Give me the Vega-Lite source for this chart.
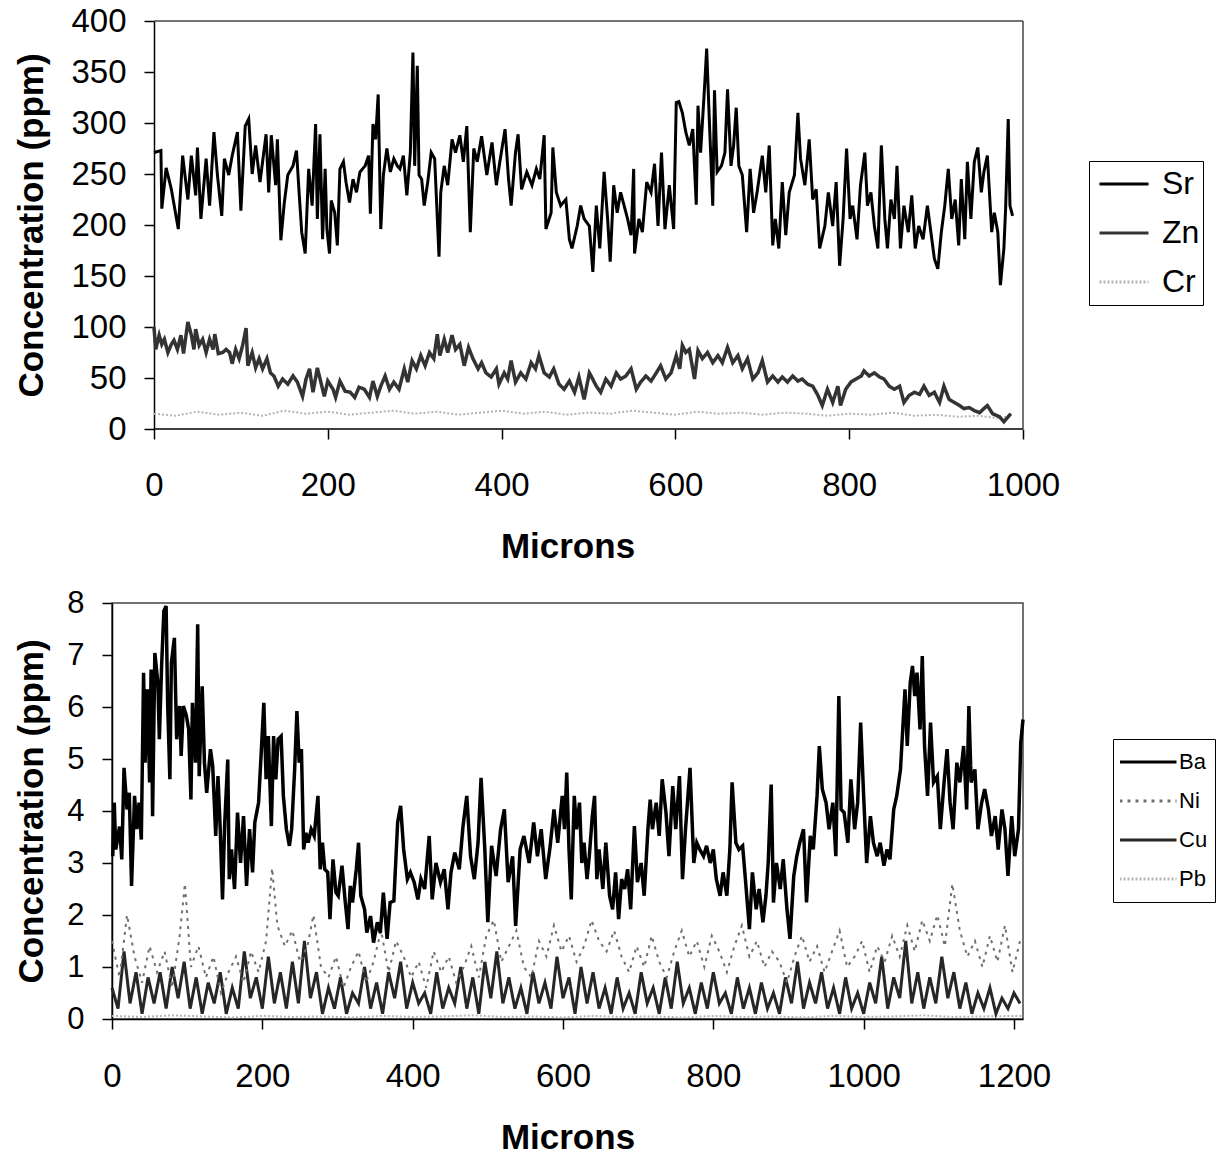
{
"$schema": "https://vega.github.io/schema/vega-lite/v6.json",
"padding": {"left": 13, "top": 5, "right": 5, "bottom": 5},
"background": "white",
"spacing": 22,
"resolve": {"scale": {"color": "independent", "strokeDash": "independent"}, "legend": {"color": "independent", "strokeDash": "independent"}},
"config": {
 "font": "Liberation Sans",
 "axis": {"grid": false, "labelFont": "Liberation Sans", "titleFont": "Liberation Sans", "labelColor": "black", "titleColor": "black", "domainColor": "black", "tickColor": "black", "domainWidth": 1.5, "tickWidth": 1.5, "tickSize": 10, "titleFontWeight": "bold", "titleFontSize": 35, "labelFontSize": 33, "labelOverlap": false, "labelFlush": false, "format": "d"},
 "view": {"stroke": "#444", "strokeWidth": 1.5},
 "legend": {"labelFont": "Liberation Sans", "labelColor": "black", "strokeColor": "black", "symbolType": "stroke"}
},
"vconcat": [
{
 "width": 911, "height": 408,
 "view": {"stroke": null},
 "layer": [
  {"data": {"values": [
{"m":0,"v":15},{"m":25,"v":13},{"m":50,"v":17},{"m":75,"v":14},{"m":100,"v":16},{"m":125,"v":13},{"m":150,"v":18},{"m":175,"v":15},{"m":200,"v":17},{"m":225,"v":14},{"m":250,"v":16},{"m":275,"v":18},{"m":300,"v":15},{"m":325,"v":17},{"m":350,"v":14},{"m":375,"v":16},{"m":400,"v":18},{"m":425,"v":15},{"m":450,"v":17},{"m":475,"v":14},{"m":500,"v":16},{"m":525,"v":15},{"m":550,"v":18},{"m":575,"v":16},{"m":600,"v":14},{"m":625,"v":17},{"m":650,"v":15},{"m":675,"v":16},{"m":700,"v":14},{"m":725,"v":16},{"m":750,"v":15},{"m":775,"v":13},{"m":800,"v":15},{"m":825,"v":14},{"m":850,"v":16},{"m":875,"v":13},{"m":900,"v":14},{"m":925,"v":12},{"m":950,"v":13},{"m":975,"v":10},{"m":985,"v":14}
  ]},
   "mark": {"type": "line", "strokeWidth": 2},
   "encoding": {
    "x": {"field": "m", "type": "quantitative", "scale": {"domain": [-48.3, 1000], "nice": false, "zero": false}, "axis": {"values": [0,200,400,600,800,1000], "title": "Microns", "domain": false, "labelPadding": 30, "titleY": 100, "format": "d"}},
    "y": {"field": "v", "type": "quantitative", "scale": {"domain": [0, 400], "nice": false}, "axis": {"values": [0,50,100,150,200,250,300,350,400], "title": "Concentration (ppm)", "offset": -42, "labelPadding": 18, "titleX": -105, "format": "d"}},
    "color": {"datum": "Cr", "type": "nominal", "scale": {"domain": ["Sr","Zn","Cr"], "range": ["black","#333333","#b4b4b4"]}, "legend": {"title": null, "orient": "none", "legendX": 977, "legendY": 140, "padding": 3, "clipHeight": 40, "rowPadding": 9, "symbolSize": 2401, "symbolStrokeWidth": 3, "symbolOffset": 6, "labelOffset": 12, "labelFontSize": 32, "strokeColor": "black"}},
    "strokeDash": {"datum": "Cr", "type": "nominal", "scale": {"domain": ["Sr","Zn","Cr"], "range": [[1,0],[1,0],[2,2]]}, "legend": {"title": null, "orient": "none", "legendX": 977, "legendY": 140, "padding": 3, "clipHeight": 40, "rowPadding": 9, "symbolSize": 2401, "symbolStrokeWidth": 3, "symbolOffset": 6, "labelOffset": 12, "labelFontSize": 32, "strokeColor": "black"}}
   }},
  {"data": {"values": [{"k": 1}]}, "mark": {"type": "rule", "color": "#444", "strokeWidth": 1.5}, "encoding": {"x": {"datum": 0}, "x2": {"datum": 1000}, "y": {"datum": 400}}},
  {"data": {"values": [{"k": 1}]}, "mark": {"type": "rule", "color": "#444", "strokeWidth": 1.5}, "encoding": {"x": {"datum": 1000}, "y": {"datum": 0}, "y2": {"datum": 400}}},
  {"data": {"values": [{"k": 1}]}, "mark": {"type": "rule", "color": "black", "strokeWidth": 1.5}, "encoding": {"x": {"datum": 0}, "x2": {"datum": 1000}, "y": {"datum": 0}}},
  {"data": {"values": [
{"m":0,"v":100},{"m":2,"v":78},{"m":6,"v":92},{"m":9,"v":83},{"m":12,"v":88},{"m":16,"v":75},{"m":20,"v":83},{"m":23,"v":87},{"m":27,"v":78},{"m":31,"v":92},{"m":34,"v":74},{"m":39,"v":105},{"m":43,"v":92},{"m":46,"v":78},{"m":48,"v":98},{"m":52,"v":82},{"m":56,"v":88},{"m":60,"v":75},{"m":64,"v":88},{"m":68,"v":78},{"m":70,"v":93},{"m":74,"v":74},{"m":79,"v":75},{"m":83,"v":78},{"m":87,"v":75},{"m":90,"v":64},{"m":94,"v":78},{"m":98,"v":69},{"m":102,"v":82},{"m":106,"v":99},{"m":108,"v":62},{"m":113,"v":75},{"m":117,"v":60},{"m":121,"v":69},{"m":125,"v":59},{"m":130,"v":69},{"m":134,"v":55},{"m":138,"v":52},{"m":143,"v":42},{"m":148,"v":49},{"m":154,"v":44},{"m":160,"v":52},{"m":165,"v":46},{"m":171,"v":32},{"m":175,"v":49},{"m":179,"v":59},{"m":183,"v":36},{"m":188,"v":60},{"m":192,"v":46},{"m":196,"v":32},{"m":200,"v":47},{"m":206,"v":39},{"m":209,"v":31},{"m":214,"v":47},{"m":220,"v":37},{"m":226,"v":36},{"m":231,"v":31},{"m":236,"v":41},{"m":242,"v":39},{"m":248,"v":31},{"m":252,"v":47},{"m":257,"v":32},{"m":261,"v":42},{"m":266,"v":52},{"m":271,"v":39},{"m":276,"v":46},{"m":282,"v":39},{"m":288,"v":59},{"m":292,"v":46},{"m":297,"v":67},{"m":302,"v":59},{"m":307,"v":72},{"m":312,"v":62},{"m":317,"v":75},{"m":322,"v":69},{"m":326,"v":93},{"m":329,"v":72},{"m":334,"v":88},{"m":338,"v":75},{"m":343,"v":92},{"m":347,"v":78},{"m":352,"v":83},{"m":357,"v":62},{"m":362,"v":80},{"m":367,"v":69},{"m":373,"v":59},{"m":377,"v":65},{"m":382,"v":55},{"m":388,"v":51},{"m":394,"v":59},{"m":397,"v":44},{"m":403,"v":55},{"m":407,"v":49},{"m":411,"v":67},{"m":416,"v":46},{"m":422,"v":55},{"m":428,"v":49},{"m":434,"v":65},{"m":439,"v":59},{"m":443,"v":72},{"m":449,"v":55},{"m":455,"v":51},{"m":460,"v":59},{"m":466,"v":44},{"m":472,"v":39},{"m":478,"v":47},{"m":484,"v":36},{"m":489,"v":51},{"m":495,"v":29},{"m":501,"v":55},{"m":503,"v":52},{"m":509,"v":42},{"m":514,"v":36},{"m":520,"v":49},{"m":526,"v":42},{"m":532,"v":55},{"m":537,"v":49},{"m":543,"v":52},{"m":549,"v":59},{"m":555,"v":39},{"m":560,"v":46},{"m":566,"v":52},{"m":572,"v":47},{"m":578,"v":55},{"m":583,"v":62},{"m":589,"v":49},{"m":595,"v":55},{"m":601,"v":72},{"m":605,"v":59},{"m":608,"v":82},{"m":612,"v":75},{"m":616,"v":78},{"m":622,"v":49},{"m":626,"v":77},{"m":631,"v":69},{"m":637,"v":75},{"m":643,"v":65},{"m":649,"v":72},{"m":654,"v":65},{"m":660,"v":80},{"m":666,"v":65},{"m":672,"v":72},{"m":677,"v":59},{"m":683,"v":69},{"m":689,"v":49},{"m":695,"v":55},{"m":700,"v":67},{"m":706,"v":46},{"m":712,"v":52},{"m":718,"v":46},{"m":723,"v":51},{"m":729,"v":46},{"m":735,"v":52},{"m":741,"v":47},{"m":746,"v":49},{"m":752,"v":44},{"m":758,"v":42},{"m":764,"v":33},{"m":769,"v":23},{"m":775,"v":39},{"m":781,"v":26},{"m":787,"v":42},{"m":790,"v":23},{"m":796,"v":39},{"m":802,"v":46},{"m":808,"v":49},{"m":814,"v":52},{"m":817,"v":57},{"m":823,"v":52},{"m":829,"v":55},{"m":835,"v":51},{"m":840,"v":49},{"m":846,"v":42},{"m":852,"v":39},{"m":858,"v":42},{"m":863,"v":26},{"m":869,"v":33},{"m":875,"v":36},{"m":881,"v":34},{"m":886,"v":42},{"m":892,"v":33},{"m":898,"v":36},{"m":904,"v":26},{"m":909,"v":42},{"m":915,"v":29},{"m":921,"v":26},{"m":927,"v":23},{"m":932,"v":20},{"m":938,"v":21},{"m":944,"v":18},{"m":950,"v":16},{"m":955,"v":20},{"m":959,"v":23},{"m":965,"v":15},{"m":973,"v":12},{"m":978,"v":7},{"m":986,"v":15}
  ]},
   "mark": {"type": "line", "strokeWidth": 3.5},
   "encoding": {"x": {"field": "m", "type": "quantitative"}, "y": {"field": "v", "type": "quantitative"}, "color": {"datum": "Zn", "type": "nominal"}, "strokeDash": {"datum": "Zn", "type": "nominal"}}},
  {"data": {"values": [
{"m":0,"v":271},{"m":8,"v":273},{"m":9,"v":216},{"m":14,"v":256},{"m":20,"v":235},{"m":28,"v":196},{"m":33,"v":268},{"m":39,"v":225},{"m":43,"v":268},{"m":48,"v":229},{"m":50,"v":276},{"m":54,"v":206},{"m":60,"v":265},{"m":64,"v":219},{"m":69,"v":291},{"m":73,"v":249},{"m":78,"v":209},{"m":81,"v":265},{"m":86,"v":249},{"m":90,"v":268},{"m":96,"v":291},{"m":100,"v":214},{"m":105,"v":297},{"m":109,"v":304},{"m":113,"v":250},{"m":117,"v":278},{"m":122,"v":242},{"m":129,"v":289},{"m":132,"v":232},{"m":135,"v":288},{"m":140,"v":239},{"m":142,"v":284},{"m":146,"v":185},{"m":150,"v":222},{"m":154,"v":249},{"m":160,"v":258},{"m":164,"v":273},{"m":167,"v":232},{"m":170,"v":193},{"m":174,"v":172},{"m":178,"v":255},{"m":182,"v":219},{"m":186,"v":299},{"m":188,"v":206},{"m":191,"v":289},{"m":194,"v":186},{"m":197,"v":255},{"m":199,"v":196},{"m":202,"v":172},{"m":204,"v":224},{"m":208,"v":212},{"m":211,"v":180},{"m":214,"v":255},{"m":218,"v":262},{"m":221,"v":242},{"m":225,"v":222},{"m":229,"v":245},{"m":233,"v":232},{"m":237,"v":252},{"m":243,"v":258},{"m":247,"v":268},{"m":249,"v":211},{"m":252,"v":299},{"m":255,"v":284},{"m":258,"v":328},{"m":261,"v":196},{"m":264,"v":249},{"m":268,"v":275},{"m":272,"v":252},{"m":276,"v":265},{"m":280,"v":258},{"m":283,"v":255},{"m":287,"v":268},{"m":291,"v":229},{"m":295,"v":271},{"m":298,"v":369},{"m":300,"v":258},{"m":303,"v":356},{"m":305,"v":249},{"m":308,"v":245},{"m":311,"v":219},{"m":315,"v":242},{"m":319,"v":271},{"m":323,"v":265},{"m":328,"v":169},{"m":330,"v":232},{"m":334,"v":258},{"m":338,"v":239},{"m":343,"v":284},{"m":347,"v":271},{"m":352,"v":288},{"m":356,"v":262},{"m":360,"v":297},{"m":364,"v":193},{"m":368,"v":275},{"m":372,"v":262},{"m":377,"v":287},{"m":383,"v":249},{"m":389,"v":281},{"m":394,"v":239},{"m":398,"v":262},{"m":404,"v":294},{"m":408,"v":245},{"m":411,"v":219},{"m":416,"v":271},{"m":419,"v":289},{"m":423,"v":235},{"m":429,"v":252},{"m":435,"v":239},{"m":440,"v":255},{"m":444,"v":245},{"m":449,"v":288},{"m":451,"v":196},{"m":457,"v":212},{"m":459,"v":276},{"m":463,"v":232},{"m":468,"v":219},{"m":474,"v":225},{"m":478,"v":186},{"m":481,"v":177},{"m":487,"v":199},{"m":491,"v":219},{"m":495,"v":206},{"m":501,"v":199},{"m":505,"v":154},{"m":509,"v":219},{"m":513,"v":177},{"m":518,"v":252},{"m":522,"v":206},{"m":525,"v":164},{"m":529,"v":239},{"m":533,"v":212},{"m":537,"v":232},{"m":541,"v":219},{"m":545,"v":206},{"m":549,"v":190},{"m":552,"v":255},{"m":553,"v":172},{"m":558,"v":206},{"m":562,"v":193},{"m":567,"v":242},{"m":572,"v":232},{"m":576,"v":260},{"m":580,"v":199},{"m":584,"v":271},{"m":588,"v":196},{"m":593,"v":239},{"m":598,"v":196},{"m":601,"v":320},{"m":604,"v":321},{"m":608,"v":310},{"m":612,"v":291},{"m":616,"v":278},{"m":620,"v":294},{"m":624,"v":220},{"m":626,"v":317},{"m":629,"v":271},{"m":633,"v":327},{"m":636,"v":373},{"m":639,"v":304},{"m":643,"v":219},{"m":645,"v":332},{"m":648,"v":252},{"m":653,"v":258},{"m":657,"v":271},{"m":660,"v":333},{"m":664,"v":258},{"m":667,"v":278},{"m":670,"v":315},{"m":673,"v":258},{"m":677,"v":249},{"m":682,"v":193},{"m":686,"v":255},{"m":690,"v":212},{"m":694,"v":232},{"m":700,"v":268},{"m":704,"v":232},{"m":708,"v":278},{"m":712,"v":180},{"m":715,"v":206},{"m":719,"v":177},{"m":723,"v":242},{"m":727,"v":190},{"m":731,"v":232},{"m":737,"v":249},{"m":741,"v":310},{"m":744,"v":265},{"m":749,"v":239},{"m":754,"v":284},{"m":758,"v":225},{"m":762,"v":235},{"m":766,"v":177},{"m":772,"v":199},{"m":776,"v":232},{"m":781,"v":199},{"m":785,"v":242},{"m":789,"v":160},{"m":793,"v":206},{"m":797,"v":275},{"m":801,"v":206},{"m":804,"v":219},{"m":809,"v":186},{"m":813,"v":239},{"m":818,"v":271},{"m":821,"v":219},{"m":825,"v":232},{"m":829,"v":199},{"m":833,"v":177},{"m":837,"v":278},{"m":841,"v":206},{"m":844,"v":177},{"m":848,"v":225},{"m":852,"v":206},{"m":855,"v":258},{"m":859,"v":177},{"m":863,"v":219},{"m":868,"v":193},{"m":872,"v":229},{"m":876,"v":177},{"m":880,"v":199},{"m":885,"v":186},{"m":890,"v":219},{"m":894,"v":193},{"m":898,"v":167},{"m":902,"v":157},{"m":906,"v":193},{"m":910,"v":219},{"m":914,"v":255},{"m":918,"v":206},{"m":922,"v":225},{"m":926,"v":180},{"m":929,"v":245},{"m":933,"v":186},{"m":936,"v":262},{"m":940,"v":206},{"m":944,"v":262},{"m":948,"v":276},{"m":952,"v":232},{"m":955,"v":252},{"m":959,"v":268},{"m":964,"v":193},{"m":967,"v":212},{"m":971,"v":193},{"m":974,"v":141},{"m":978,"v":177},{"m":980,"v":216},{"m":983,"v":304},{"m":985,"v":219},{"m":988,"v":209}
  ]},
   "mark": {"type": "line", "strokeWidth": 3},
   "encoding": {"x": {"field": "m", "type": "quantitative"}, "y": {"field": "v", "type": "quantitative"}, "color": {"datum": "Sr", "type": "nominal"}, "strokeDash": {"datum": "Sr", "type": "nominal"}}}
 ]
},
{
 "width": 911, "height": 416,
 "encoding": {
  "x": {"field": "m", "type": "quantitative", "scale": {"domain": [0, 1212], "nice": false}, "axis": {"values": [0,200,400,600,800,1000,1200], "title": "Microns", "labelPadding": 31, "titleY": 101, "format": "d"}},
  "y": {"field": "v", "type": "quantitative", "scale": {"domain": [0, 8], "nice": false}, "axis": {"values": [0,1,2,3,4,5,6,7,8], "title": "Concentration (ppm)", "labelPadding": 18, "titleX": -63, "labelFontSize": 31, "format": "d"}}
 },
 "layer": [
  {"data": {"values": [
{"m":0,"v":0.06},{"m":40,"v":0.04},{"m":80,"v":0.07},{"m":120,"v":0.05},{"m":160,"v":0.03},{"m":200,"v":0.06},{"m":240,"v":0.04},{"m":280,"v":0.05},{"m":320,"v":0.03},{"m":360,"v":0.06},{"m":400,"v":0.04},{"m":440,"v":0.05},{"m":480,"v":0.07},{"m":520,"v":0.04},{"m":560,"v":0.05},{"m":600,"v":0.03},{"m":640,"v":0.06},{"m":680,"v":0.04},{"m":720,"v":0.05},{"m":760,"v":0.03},{"m":800,"v":0.06},{"m":840,"v":0.04},{"m":880,"v":0.05},{"m":920,"v":0.03},{"m":960,"v":0.06},{"m":1000,"v":0.04},{"m":1040,"v":0.05},{"m":1080,"v":0.07},{"m":1120,"v":0.04},{"m":1160,"v":0.05},{"m":1210,"v":0.06}
  ]},
   "mark": {"type": "line", "strokeWidth": 2},
   "encoding": {
    "color": {"datum": "Pb", "type": "nominal", "scale": {"domain": ["Ba","Ni","Cu","Pb"], "range": ["black","#707070","#262626","#b4b4b4"]}, "legend": {"title": null, "orient": "none", "legendX": 1001, "legendY": 136, "padding": 7, "clipHeight": 32, "rowPadding": 7, "symbolSize": 3249, "symbolStrokeWidth": 3, "symbolOffset": -2, "labelOffset": 1, "labelFontSize": 22, "strokeColor": "black"}},
    "strokeDash": {"datum": "Pb", "type": "nominal", "scale": {"domain": ["Ba","Ni","Cu","Pb"], "range": [[1,0],[3,5],[1,0],[2,2]]}, "legend": {"title": null, "orient": "none", "legendX": 1001, "legendY": 136, "padding": 7, "clipHeight": 32, "rowPadding": 7, "symbolSize": 3249, "symbolStrokeWidth": 3, "symbolOffset": -2, "labelOffset": 1, "labelFontSize": 22, "strokeColor": "black"}}
   }},
  {"data": {"values": [
{"m":0,"v":0.6},{"m":8,"v":0.2},{"m":16,"v":1.3},{"m":24,"v":0.3},{"m":32,"v":0.9},{"m":40,"v":0.1},{"m":48,"v":0.8},{"m":56,"v":0.3},{"m":64,"v":0.9},{"m":72,"v":0.2},{"m":80,"v":1.0},{"m":88,"v":0.4},{"m":96,"v":1.1},{"m":104,"v":0.2},{"m":112,"v":0.8},{"m":120,"v":0.1},{"m":128,"v":0.7},{"m":136,"v":0.3},{"m":144,"v":0.9},{"m":152,"v":0.1},{"m":160,"v":0.6},{"m":168,"v":0.2},{"m":176,"v":1.3},{"m":184,"v":0.4},{"m":192,"v":0.8},{"m":200,"v":0.2},{"m":208,"v":1.2},{"m":216,"v":0.3},{"m":224,"v":0.9},{"m":232,"v":0.2},{"m":240,"v":1.1},{"m":248,"v":0.3},{"m":256,"v":1.5},{"m":264,"v":0.4},{"m":272,"v":0.9},{"m":280,"v":0.1},{"m":288,"v":0.6},{"m":296,"v":0.2},{"m":304,"v":0.8},{"m":312,"v":0.1},{"m":320,"v":0.5},{"m":328,"v":0.3},{"m":336,"v":1.0},{"m":344,"v":0.2},{"m":352,"v":0.7},{"m":360,"v":0.1},{"m":368,"v":0.9},{"m":376,"v":0.4},{"m":384,"v":1.1},{"m":392,"v":0.2},{"m":400,"v":0.7},{"m":408,"v":0.3},{"m":416,"v":0.5},{"m":424,"v":0.1},{"m":432,"v":0.9},{"m":440,"v":0.2},{"m":448,"v":0.6},{"m":456,"v":0.3},{"m":464,"v":1.0},{"m":472,"v":0.2},{"m":480,"v":0.8},{"m":488,"v":0.1},{"m":496,"v":1.1},{"m":504,"v":0.4},{"m":512,"v":1.3},{"m":520,"v":0.3},{"m":528,"v":0.8},{"m":536,"v":0.2},{"m":544,"v":0.6},{"m":552,"v":0.1},{"m":560,"v":0.9},{"m":568,"v":0.3},{"m":576,"v":0.7},{"m":584,"v":0.2},{"m":592,"v":1.2},{"m":600,"v":0.4},{"m":608,"v":0.8},{"m":616,"v":0.1},{"m":624,"v":1.0},{"m":632,"v":0.3},{"m":640,"v":0.9},{"m":648,"v":0.2},{"m":656,"v":0.6},{"m":664,"v":0.1},{"m":672,"v":0.8},{"m":680,"v":0.2},{"m":688,"v":0.5},{"m":696,"v":0.1},{"m":704,"v":0.9},{"m":712,"v":0.3},{"m":720,"v":0.6},{"m":728,"v":0.1},{"m":736,"v":0.8},{"m":744,"v":0.2},{"m":752,"v":1.1},{"m":760,"v":0.3},{"m":768,"v":0.6},{"m":776,"v":0.1},{"m":784,"v":0.7},{"m":792,"v":0.2},{"m":800,"v":0.9},{"m":808,"v":0.3},{"m":816,"v":0.5},{"m":824,"v":0.1},{"m":832,"v":0.8},{"m":840,"v":0.2},{"m":848,"v":0.6},{"m":856,"v":0.1},{"m":864,"v":0.7},{"m":872,"v":0.2},{"m":880,"v":0.5},{"m":888,"v":0.1},{"m":896,"v":0.8},{"m":904,"v":0.3},{"m":912,"v":1.1},{"m":920,"v":0.2},{"m":928,"v":0.7},{"m":936,"v":0.3},{"m":944,"v":0.9},{"m":952,"v":0.2},{"m":960,"v":0.6},{"m":968,"v":0.1},{"m":976,"v":0.8},{"m":984,"v":0.2},{"m":992,"v":0.5},{"m":1000,"v":0.1},{"m":1008,"v":0.7},{"m":1016,"v":0.3},{"m":1024,"v":1.2},{"m":1032,"v":0.2},{"m":1040,"v":0.8},{"m":1048,"v":0.4},{"m":1056,"v":1.5},{"m":1064,"v":0.3},{"m":1072,"v":0.9},{"m":1080,"v":0.2},{"m":1088,"v":0.8},{"m":1096,"v":0.3},{"m":1104,"v":1.2},{"m":1112,"v":0.4},{"m":1120,"v":0.9},{"m":1128,"v":0.2},{"m":1136,"v":0.7},{"m":1144,"v":0.1},{"m":1152,"v":0.5},{"m":1160,"v":0.2},{"m":1168,"v":0.6},{"m":1176,"v":0.1},{"m":1184,"v":0.4},{"m":1192,"v":0.2},{"m":1200,"v":0.5},{"m":1208,"v":0.3}
  ]},
   "mark": {"type": "line", "strokeWidth": 3},
   "encoding": {"color": {"datum": "Cu", "type": "nominal"}, "strokeDash": {"datum": "Cu", "type": "nominal"}}},
  {"data": {"values": [
{"m":0,"v":1.5},{"m":10,"v":0.8},{"m":20,"v":2.0},{"m":30,"v":1.2},{"m":40,"v":0.7},{"m":50,"v":1.4},{"m":60,"v":0.9},{"m":70,"v":1.3},{"m":80,"v":0.6},{"m":90,"v":1.6},{"m":97,"v":2.6},{"m":105,"v":1.0},{"m":115,"v":1.4},{"m":125,"v":0.8},{"m":135,"v":1.2},{"m":145,"v":0.5},{"m":155,"v":0.9},{"m":165,"v":1.2},{"m":175,"v":0.7},{"m":185,"v":1.3},{"m":195,"v":0.9},{"m":205,"v":1.5},{"m":213,"v":2.9},{"m":220,"v":1.8},{"m":230,"v":1.4},{"m":240,"v":1.7},{"m":250,"v":1.1},{"m":260,"v":1.4},{"m":268,"v":2.0},{"m":278,"v":1.0},{"m":288,"v":0.8},{"m":298,"v":1.2},{"m":308,"v":0.6},{"m":318,"v":1.0},{"m":328,"v":1.3},{"m":338,"v":0.7},{"m":348,"v":1.1},{"m":358,"v":1.7},{"m":368,"v":0.9},{"m":378,"v":1.5},{"m":388,"v":1.2},{"m":398,"v":0.8},{"m":408,"v":1.1},{"m":418,"v":0.6},{"m":428,"v":1.3},{"m":438,"v":0.9},{"m":448,"v":1.2},{"m":458,"v":0.7},{"m":468,"v":1.0},{"m":478,"v":1.4},{"m":488,"v":0.8},{"m":498,"v":1.6},{"m":508,"v":1.9},{"m":518,"v":1.1},{"m":528,"v":1.4},{"m":538,"v":1.7},{"m":548,"v":1.0},{"m":558,"v":0.8},{"m":568,"v":1.5},{"m":578,"v":1.2},{"m":588,"v":1.8},{"m":598,"v":1.3},{"m":608,"v":1.6},{"m":618,"v":1.1},{"m":628,"v":1.4},{"m":638,"v":1.9},{"m":648,"v":1.5},{"m":658,"v":1.3},{"m":668,"v":1.7},{"m":678,"v":1.2},{"m":688,"v":0.9},{"m":698,"v":1.4},{"m":708,"v":1.0},{"m":718,"v":1.6},{"m":728,"v":1.1},{"m":738,"v":0.8},{"m":748,"v":1.3},{"m":758,"v":1.7},{"m":768,"v":1.2},{"m":778,"v":1.5},{"m":788,"v":1.0},{"m":798,"v":1.6},{"m":808,"v":1.3},{"m":818,"v":0.9},{"m":828,"v":1.4},{"m":838,"v":1.8},{"m":848,"v":1.2},{"m":858,"v":1.5},{"m":868,"v":1.0},{"m":878,"v":1.3},{"m":888,"v":1.1},{"m":898,"v":0.7},{"m":908,"v":1.2},{"m":918,"v":1.6},{"m":928,"v":1.1},{"m":938,"v":1.4},{"m":948,"v":0.9},{"m":958,"v":1.3},{"m":968,"v":1.7},{"m":978,"v":1.0},{"m":988,"v":1.2},{"m":998,"v":1.5},{"m":1008,"v":0.9},{"m":1018,"v":1.4},{"m":1028,"v":1.1},{"m":1038,"v":1.6},{"m":1048,"v":1.2},{"m":1058,"v":1.8},{"m":1068,"v":1.3},{"m":1078,"v":1.9},{"m":1088,"v":1.5},{"m":1098,"v":2.0},{"m":1108,"v":1.4},{"m":1118,"v":2.6},{"m":1128,"v":1.7},{"m":1138,"v":1.2},{"m":1148,"v":1.5},{"m":1158,"v":1.0},{"m":1168,"v":1.6},{"m":1178,"v":1.1},{"m":1188,"v":1.8},{"m":1198,"v":0.9},{"m":1208,"v":1.5}
  ]},
   "mark": {"type": "line", "strokeWidth": 2},
   "encoding": {"color": {"datum": "Ni", "type": "nominal"}, "strokeDash": {"datum": "Ni", "type": "nominal"}}},
  {"data": {"values": [
{"m":1,"v":3.13},{"m":3,"v":4.16},{"m":5,"v":3.26},{"m":10,"v":3.7},{"m":13,"v":3.07},{"m":16,"v":4.83},{"m":20,"v":4.03},{"m":23,"v":4.35},{"m":26,"v":2.56},{"m":30,"v":4.29},{"m":33,"v":3.65},{"m":36,"v":4.16},{"m":39,"v":3.45},{"m":42,"v":6.66},{"m":44,"v":4.93},{"m":47,"v":6.34},{"m":50,"v":4.55},{"m":52,"v":6.72},{"m":54,"v":3.9},{"m":57,"v":7.04},{"m":61,"v":6.47},{"m":63,"v":5.38},{"m":66,"v":6.79},{"m":69,"v":7.85},{"m":72,"v":7.94},{"m":74,"v":6.08},{"m":77,"v":4.61},{"m":79,"v":6.85},{"m":83,"v":7.33},{"m":86,"v":5.38},{"m":90,"v":6.02},{"m":92,"v":5.06},{"m":95,"v":6.02},{"m":99,"v":5.83},{"m":102,"v":5.57},{"m":105,"v":4.22},{"m":107,"v":6.08},{"m":111,"v":4.93},{"m":114,"v":7.59},{"m":116,"v":4.67},{"m":120,"v":6.4},{"m":123,"v":4.93},{"m":126,"v":4.35},{"m":131,"v":5.19},{"m":134,"v":4.86},{"m":138,"v":3.52},{"m":141,"v":4.67},{"m":144,"v":3.65},{"m":147,"v":2.3},{"m":150,"v":3.78},{"m":154,"v":4.99},{"m":156,"v":2.69},{"m":159,"v":3.26},{"m":163,"v":2.5},{"m":167,"v":3.97},{"m":171,"v":3.0},{"m":175,"v":3.9},{"m":179,"v":2.56},{"m":183,"v":3.65},{"m":187,"v":2.82},{"m":190,"v":3.78},{"m":195,"v":4.16},{"m":199,"v":5.25},{"m":202,"v":6.08},{"m":205,"v":4.61},{"m":208,"v":5.44},{"m":212,"v":3.71},{"m":215,"v":5.44},{"m":218,"v":4.61},{"m":221,"v":5.38},{"m":225,"v":5.44},{"m":228,"v":4.29},{"m":232,"v":3.65},{"m":236,"v":3.33},{"m":239,"v":3.65},{"m":243,"v":4.8},{"m":246,"v":5.92},{"m":249,"v":4.93},{"m":252,"v":5.19},{"m":255,"v":3.26},{"m":258,"v":3.58},{"m":261,"v":3.39},{"m":265,"v":3.65},{"m":269,"v":3.52},{"m":274,"v":4.29},{"m":277,"v":2.88},{"m":280,"v":3.39},{"m":283,"v":2.88},{"m":287,"v":2.82},{"m":290,"v":1.92},{"m":294,"v":3.07},{"m":298,"v":2.43},{"m":301,"v":2.37},{"m":306,"v":2.95},{"m":310,"v":2.3},{"m":314,"v":1.73},{"m":317,"v":2.56},{"m":320,"v":2.24},{"m":325,"v":2.88},{"m":328,"v":3.39},{"m":331,"v":2.37},{"m":336,"v":2.11},{"m":339,"v":1.66},{"m":344,"v":1.98},{"m":348,"v":1.47},{"m":353,"v":1.86},{"m":357,"v":1.66},{"m":361,"v":2.43},{"m":366,"v":1.54},{"m":370,"v":2.24},{"m":375,"v":2.27},{"m":380,"v":3.78},{"m":384,"v":4.1},{"m":388,"v":3.26},{"m":393,"v":2.69},{"m":397,"v":2.82},{"m":402,"v":2.63},{"m":407,"v":2.3},{"m":411,"v":2.69},{"m":416,"v":2.5},{"m":422,"v":3.52},{"m":426,"v":2.3},{"m":431,"v":3.0},{"m":437,"v":2.63},{"m":442,"v":2.88},{"m":447,"v":2.11},{"m":451,"v":2.82},{"m":456,"v":3.2},{"m":462,"v":2.88},{"m":467,"v":3.71},{"m":472,"v":4.29},{"m":477,"v":3.13},{"m":482,"v":2.69},{"m":487,"v":3.39},{"m":491,"v":4.64},{"m":496,"v":3.26},{"m":500,"v":1.86},{"m":505,"v":3.33},{"m":511,"v":2.75},{"m":517,"v":3.65},{"m":522,"v":4.03},{"m":527,"v":2.63},{"m":533,"v":3.13},{"m":537,"v":1.79},{"m":543,"v":3.26},{"m":548,"v":3.52},{"m":555,"v":3.0},{"m":561,"v":3.78},{"m":566,"v":3.13},{"m":571,"v":3.65},{"m":577,"v":2.69},{"m":583,"v":3.33},{"m":588,"v":4.03},{"m":593,"v":3.39},{"m":599,"v":4.29},{"m":602,"v":3.65},{"m":605,"v":4.74},{"m":608,"v":3.26},{"m":611,"v":2.3},{"m":615,"v":4.29},{"m":618,"v":3.65},{"m":622,"v":4.16},{"m":625,"v":3.0},{"m":628,"v":3.39},{"m":632,"v":2.69},{"m":635,"v":3.13},{"m":639,"v":3.9},{"m":642,"v":4.29},{"m":645,"v":2.69},{"m":648,"v":3.26},{"m":653,"v":2.5},{"m":657,"v":3.39},{"m":662,"v":2.37},{"m":666,"v":2.11},{"m":670,"v":2.82},{"m":674,"v":1.92},{"m":678,"v":2.69},{"m":682,"v":2.5},{"m":686,"v":2.88},{"m":690,"v":2.11},{"m":695,"v":3.71},{"m":699,"v":2.63},{"m":704,"v":3.0},{"m":708,"v":2.37},{"m":713,"v":3.65},{"m":716,"v":4.22},{"m":719,"v":3.65},{"m":724,"v":4.16},{"m":728,"v":3.52},{"m":732,"v":4.61},{"m":737,"v":3.97},{"m":741,"v":3.13},{"m":746,"v":4.48},{"m":750,"v":3.65},{"m":755,"v":4.67},{"m":759,"v":2.69},{"m":763,"v":3.65},{"m":769,"v":4.83},{"m":774,"v":3.0},{"m":778,"v":3.39},{"m":782,"v":3.26},{"m":787,"v":3.13},{"m":791,"v":3.33},{"m":796,"v":3.0},{"m":800,"v":3.26},{"m":804,"v":2.69},{"m":809,"v":2.37},{"m":813,"v":2.82},{"m":818,"v":2.37},{"m":822,"v":3.26},{"m":825,"v":4.55},{"m":830,"v":3.39},{"m":834,"v":3.26},{"m":839,"v":3.33},{"m":843,"v":2.63},{"m":848,"v":1.73},{"m":852,"v":2.82},{"m":857,"v":2.11},{"m":861,"v":2.5},{"m":866,"v":1.86},{"m":870,"v":2.37},{"m":873,"v":3.0},{"m":877,"v":4.51},{"m":880,"v":2.24},{"m":884,"v":3.0},{"m":889,"v":2.5},{"m":893,"v":3.07},{"m":898,"v":2.11},{"m":902,"v":1.54},{"m":907,"v":2.75},{"m":911,"v":3.13},{"m":915,"v":3.39},{"m":920,"v":3.65},{"m":924,"v":2.24},{"m":929,"v":3.52},{"m":933,"v":3.26},{"m":938,"v":4.29},{"m":941,"v":5.25},{"m":945,"v":4.42},{"m":950,"v":4.16},{"m":954,"v":3.65},{"m":959,"v":4.16},{"m":963,"v":3.13},{"m":967,"v":6.21},{"m":970,"v":4.03},{"m":974,"v":3.97},{"m":979,"v":3.39},{"m":983,"v":4.61},{"m":988,"v":3.65},{"m":992,"v":4.16},{"m":996,"v":5.7},{"m":1000,"v":4.29},{"m":1004,"v":3.0},{"m":1009,"v":3.9},{"m":1013,"v":3.39},{"m":1018,"v":3.13},{"m":1022,"v":3.39},{"m":1027,"v":2.95},{"m":1031,"v":3.26},{"m":1035,"v":3.07},{"m":1040,"v":4.03},{"m":1044,"v":4.29},{"m":1049,"v":4.8},{"m":1052,"v":5.57},{"m":1055,"v":6.34},{"m":1058,"v":5.25},{"m":1062,"v":6.47},{"m":1065,"v":6.79},{"m":1068,"v":6.21},{"m":1071,"v":6.66},{"m":1075,"v":5.57},{"m":1078,"v":6.98},{"m":1081,"v":5.25},{"m":1085,"v":4.29},{"m":1089,"v":5.7},{"m":1093,"v":4.55},{"m":1098,"v":4.67},{"m":1102,"v":3.65},{"m":1107,"v":4.55},{"m":1111,"v":5.19},{"m":1115,"v":4.16},{"m":1119,"v":3.65},{"m":1124,"v":4.93},{"m":1128,"v":4.55},{"m":1133,"v":5.25},{"m":1137,"v":4.03},{"m":1140,"v":6.02},{"m":1143,"v":4.55},{"m":1148,"v":4.8},{"m":1152,"v":3.65},{"m":1157,"v":4.16},{"m":1161,"v":4.42},{"m":1166,"v":4.03},{"m":1170,"v":3.52},{"m":1175,"v":3.9},{"m":1179,"v":3.26},{"m":1184,"v":4.03},{"m":1188,"v":3.65},{"m":1192,"v":2.75},{"m":1197,"v":3.9},{"m":1201,"v":3.13},{"m":1206,"v":3.65},{"m":1209,"v":5.31},{"m":1212,"v":5.76}
  ]},
   "mark": {"type": "line", "strokeWidth": 3.5},
   "encoding": {"color": {"datum": "Ba", "type": "nominal"}, "strokeDash": {"datum": "Ba", "type": "nominal"}}}
 ]
}
]
}
